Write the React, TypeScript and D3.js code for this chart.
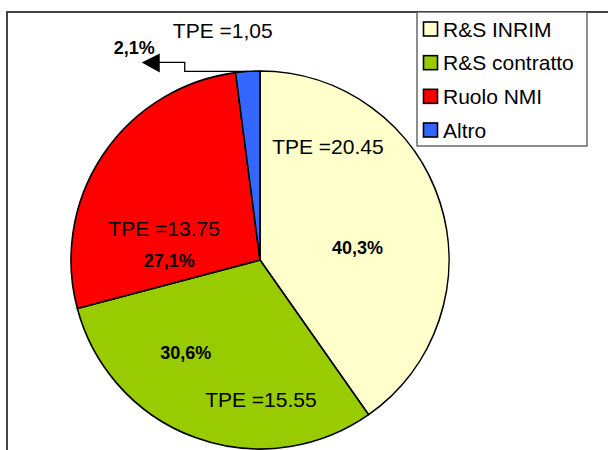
import { useEffect, useRef } from "react";
import * as d3 from "d3";

const categories = ["R&S INRIM", "R&S contratto", "Ruolo NMI", "Altro"];
const tpeValues = [20.45, 15.55, 13.75, 1.05];
const tpeLabels = ["TPE =20.45", "TPE =15.55", "TPE =13.75", "TPE =1,05"];
const colors = ["#FFFFCC", "#99CC00", "#FF0000", "#3366FF"];

// label placement inside each slice: t = fraction along the slice angle, k = fraction of radius
const tpePlace = [{ t: 0.213, k: 0.7 }, { t: 0.315, k: 0.74 }, { t: 0.342, k: 0.535 }];
const pctPlace = [{ t: 0.573, k: 0.52 }, { t: 0.668, k: 0.63 }, { t: 0.147, k: 0.48 }];

export default function App() {
  const svgRef = useRef<SVGSVGElement>(null);

  useEffect(() => {
    const width = 608, height = 450;
    const cx = 260, cy = 260, r = 189;
    const font = "'Liberation Sans', Arial, sans-serif";

    const svg = d3.select(svgRef.current);
    svg.selectAll("*").remove();
    svg.attr("width", width).attr("height", height);

    // chart frame
    svg.append("path")
      .attr("d", `M7,${height} L7,12 L${width},12`)
      .attr("fill", "none")
      .attr("stroke", "#444")
      .attr("stroke-width", 2);

    const total = d3.sum(tpeValues);
    const pct = (v: number) => (v / total * 100).toFixed(1).replace(".", ",") + "%";

    const arcs = d3.pie<number>().sort(null).startAngle(0).endAngle(2 * Math.PI)(tpeValues);
    const arc = d3.arc<d3.PieArcDatum<number>>().innerRadius(0).outerRadius(r);

    const polar = (a: number, k: number) => [cx + k * r * Math.sin(a), cy - k * r * Math.cos(a)];

    // leader arrow for the small slice
    const small = arcs[3];
    const [ex, ey] = polar((small.startAngle + small.endAngle) / 2, 1);
    const kx = ex - 63, ky = ey - 9;
    const g0 = svg.append("g");
    g0.append("polyline")
      .attr("points", `${ex},${ey} ${kx},${ey} ${kx},${ky} ${kx - 26},${ky}`)
      .attr("fill", "none")
      .attr("stroke", "#000")
      .attr("stroke-width", 1.3);
    g0.append("path")
      .attr("d", `M${kx - 43},${ky} L${kx - 25},${ky - 9} L${kx - 25},${ky + 10} Z`)
      .attr("fill", "#000");

    const g = svg.append("g").attr("transform", `translate(${cx},${cy})`);
    g.selectAll("path")
      .data(arcs)
      .join("path")
      .attr("d", arc)
      .attr("fill", (_, i) => colors[i])
      .attr("stroke", "#000")
      .attr("stroke-width", 1.6)
      .attr("stroke-linejoin", "round");

    arcs.slice(0, 3).forEach((d, i) => {
      const span = d.endAngle - d.startAngle;
      const [tx, ty] = polar(d.startAngle + span * tpePlace[i].t, tpePlace[i].k);
      svg.append("text")
        .attr("x", tx).attr("y", ty)
        .attr("text-anchor", "middle")
        .attr("dominant-baseline", "central")
        .style("font-family", font)
        .style("font-size", "21px")
        .text(tpeLabels[i]);
      const [px, py] = polar(d.startAngle + span * pctPlace[i].t, pctPlace[i].k);
      svg.append("text")
        .attr("x", px).attr("y", py)
        .attr("text-anchor", "middle")
        .attr("dominant-baseline", "central")
        .style("font-family", font)
        .style("font-size", "18px")
        .style("font-weight", "bold")
        .text(pct(tpeValues[i]));
    });

    // outside labels for the small slice
    svg.append("text")
      .attr("x", kx + 38).attr("y", ky - 24)
      .attr("text-anchor", "middle")
      .style("font-family", font)
      .style("font-size", "21px")
      .text(tpeLabels[3]);
    svg.append("text")
      .attr("x", kx - 30).attr("y", ky - 8)
      .attr("text-anchor", "end")
      .style("font-family", font)
      .style("font-size", "18px")
      .style("font-weight", "bold")
      .text(pct(tpeValues[3]));

    // legend
    const lg = svg.append("g").attr("transform", "translate(417,12)");
    lg.append("rect")
      .attr("width", 170).attr("height", 134)
      .attr("fill", "#fff")
      .attr("stroke", "#444")
      .attr("stroke-width", 1.2);
    const ly = d3.scalePoint<string>().domain(categories).range([17, 118]);
    categories.forEach((c, i) => {
      const y = ly(c)!;
      lg.append("rect")
        .attr("x", 6.5).attr("y", y - 7)
        .attr("width", 14).attr("height", 14)
        .attr("fill", colors[i])
        .attr("stroke", "#000")
        .attr("stroke-width", 1.6);
      lg.append("text")
        .attr("x", 26).attr("y", y)
        .attr("dominant-baseline", "central")
        .style("font-family", font)
        .style("font-size", "21px")
        .text(c);
    });
  }, []);

  return <svg ref={svgRef} style={{ position: "absolute", left: 0, top: 0 }}></svg>;
}
